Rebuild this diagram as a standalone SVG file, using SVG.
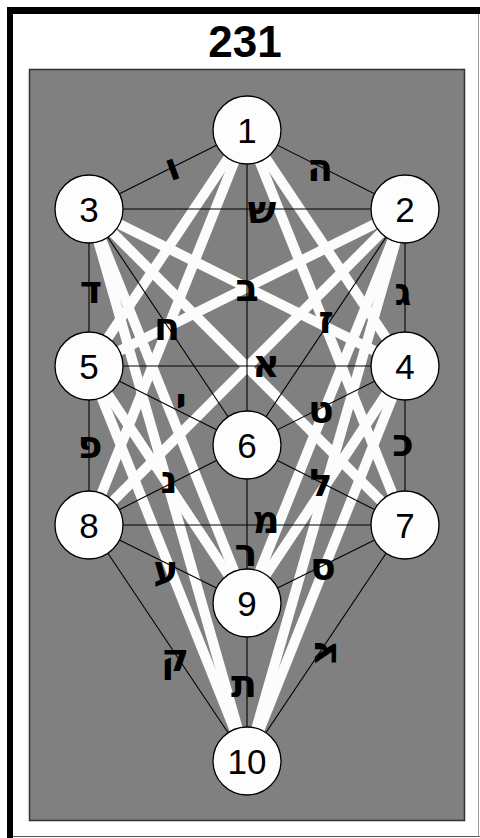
<svg xmlns="http://www.w3.org/2000/svg" width="480" height="838" viewBox="0 0 480 838">
<style>
.w{stroke:#fcfcfc;stroke-width:10;stroke-linecap:butt;fill:none}
.p{stroke:#000;stroke-width:1.1;fill:none}
.n circle{fill:#fdfdfd;stroke:#000;stroke-width:1.3}
.n text{font-family:"Liberation Sans",Arial,sans-serif;font-size:35px;fill:#000;text-anchor:middle}
.h{font-family:"DejaVu Sans","Liberation Sans",sans-serif;font-weight:bold;font-size:38px;fill:#000;text-anchor:middle}
</style>
<rect x="0" y="0" width="480" height="838" fill="#fff"/>
<rect x="7" y="7" width="6" height="831" fill="#000"/>
<rect x="7" y="7" width="473" height="7" fill="#000"/>
<line x1="13" y1="836.5" x2="480" y2="836.5" stroke="#555" stroke-width="1"/>
<line x1="478.5" y1="14" x2="478.5" y2="837" stroke="#999" stroke-width="1"/>
<text x="245" y="57" font-family="Liberation Sans,Arial,sans-serif" font-weight="bold" font-size="44" text-anchor="middle">231</text>
<rect x="29.5" y="69.5" width="435" height="751" fill="#808080" stroke="#333" stroke-width="1.5"/>
<g id="connectors">
<g id="gates">
<line class="w" x1="247" y1="130" x2="405" y2="366"/>
<line class="w" x1="247" y1="130" x2="89" y2="366"/>
<line class="w" x1="247" y1="130" x2="405" y2="525"/>
<line class="w" x1="247" y1="130" x2="89" y2="525"/>
<line class="w" x1="405" y1="209" x2="89" y2="366"/>
<line class="w" x1="405" y1="209" x2="89" y2="525"/>
<line class="w" x1="405" y1="209" x2="247" y2="603"/>
<line class="w" x1="405" y1="209" x2="247" y2="761"/>
<line class="w" x1="89" y1="209" x2="405" y2="366"/>
<line class="w" x1="89" y1="209" x2="405" y2="525"/>
<line class="w" x1="89" y1="209" x2="247" y2="603"/>
<line class="w" x1="89" y1="209" x2="247" y2="761"/>
<line class="w" x1="405" y1="366" x2="247" y2="603"/>
<line class="w" x1="405" y1="366" x2="247" y2="761"/>
<line class="w" x1="89" y1="366" x2="247" y2="603"/>
<line class="w" x1="89" y1="366" x2="247" y2="761"/>
</g>
<g id="paths">
<line class="p" x1="247" y1="130" x2="405" y2="209"/>
<line class="p" x1="247" y1="130" x2="89" y2="209"/>
<line class="p" x1="247" y1="130" x2="247" y2="761"/>
<line class="p" x1="89" y1="209" x2="405" y2="209"/>
<line class="p" x1="405" y1="209" x2="405" y2="525"/>
<line class="p" x1="89" y1="209" x2="89" y2="525"/>
<line class="p" x1="405" y1="209" x2="247" y2="445"/>
<line class="p" x1="89" y1="209" x2="247" y2="445"/>
<line class="p" x1="89" y1="366" x2="405" y2="366"/>
<line class="p" x1="405" y1="366" x2="247" y2="445"/>
<line class="p" x1="89" y1="366" x2="247" y2="445"/>
<line class="p" x1="405" y1="525" x2="247" y2="445"/>
<line class="p" x1="89" y1="525" x2="247" y2="445"/>
<line class="p" x1="89" y1="525" x2="405" y2="525"/>
<line class="p" x1="405" y1="525" x2="247" y2="603"/>
<line class="p" x1="89" y1="525" x2="247" y2="603"/>
<line class="p" x1="405" y1="525" x2="247" y2="761"/>
<line class="p" x1="89" y1="525" x2="247" y2="761"/>
</g>
</g>
<g id="n1" class="n"><circle cx="247" cy="130" r="34"/><text x="247" y="143">1</text></g>
<g id="n2" class="n"><circle cx="405" cy="209" r="34"/><text x="405" y="222">2</text></g>
<g id="n3" class="n"><circle cx="89" cy="209" r="34"/><text x="89" y="222">3</text></g>
<g id="n4" class="n"><circle cx="405" cy="366" r="34"/><text x="405" y="379">4</text></g>
<g id="n5" class="n"><circle cx="89" cy="366" r="34"/><text x="89" y="379">5</text></g>
<g id="n6" class="n"><circle cx="247" cy="445" r="34"/><text x="247" y="458">6</text></g>
<g id="n7" class="n"><circle cx="405" cy="525" r="34"/><text x="405" y="538">7</text></g>
<g id="n8" class="n"><circle cx="89" cy="525" r="34"/><text x="89" y="538">8</text></g>
<g id="n9" class="n"><circle cx="247" cy="603" r="34"/><text x="247" y="616">9</text></g>
<g id="n10" class="n"><circle cx="247" cy="761" r="34"/><text x="247" y="774">10</text></g>
<g id="letters">
<text class="h" x="172" y="180" transform="rotate(-20 172 167)">ו</text>
<text class="h" x="320" y="181">ה</text>
<text class="h" x="262" y="223">ש</text>
<text class="h" x="247" y="301">ב</text>
<text class="h" x="403" y="305">ג</text>
<text class="h" x="91" y="303">ד</text>
<text class="h" x="167" y="340">ח</text>
<text class="h" x="326" y="333">ז</text>
<text class="h" x="266" y="377">א</text>
<text class="h" x="181" y="415">י</text>
<text class="h" x="321" y="423">ט</text>
<text class="h" x="90" y="458">פ</text>
<text class="h" x="403" y="456">כ</text>
<text class="h" x="169" y="493">נ</text>
<text class="h" x="321" y="496">ל</text>
<text class="h" x="266" y="533">מ</text>
<text class="h" x="246" y="566">ר</text>
<text class="h" x="166" y="583">ע</text>
<text class="h" x="323" y="580">ס</text>
<text class="h" x="175" y="671">ק</text>
<text class="h" x="244" y="697">ת</text>
<text class="h" x="323" y="665" transform="rotate(-90 323 652)">צ</text>
</g>
</svg>
